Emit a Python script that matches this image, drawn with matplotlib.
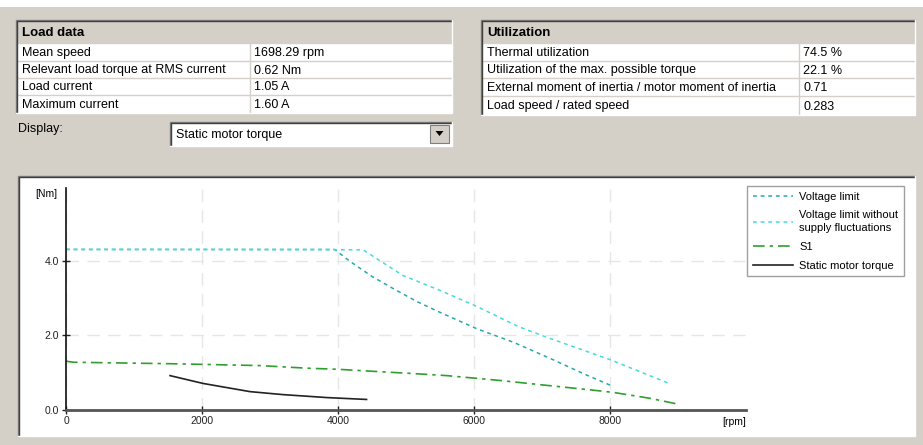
import matplotlib
matplotlib.use("Agg")
import matplotlib.pyplot as plt
from matplotlib.patches import Rectangle, Polygon

plt.rcParams['font.family'] = ['Liberation Sans', 'DejaVu Sans']

# values
load_rows = ["Mean speed", "Relevant load torque at RMS current", "Load current", "Maximum current"]
load_vals = ["1698.29 rpm", "0.62 Nm", "1.05 A", "1.60 A"]
util_rows = ["Thermal utilization", "Utilization of the max. possible torque",
             "External moment of inertia / motor moment of inertia", "Load speed / rated speed"]
util_vals = ["74.5 %", "22.1 %", "0.71", "0.283"]

voltage_rpm = [0, 3950, 4176, 4495, 4810, 5160, 5500, 6040, 6575, 7160, 7600, 8045]
voltage_nm = [4.30, 4.30, 3.98, 3.58, 3.25, 2.90, 2.61, 2.17, 1.81, 1.34, 0.97, 0.62]

nofluct_rpm = [0, 4370, 4495, 4955, 5500, 6040, 6650, 7070, 8000, 8870]
nofluct_nm = [4.30, 4.29, 4.14, 3.60, 3.20, 2.77, 2.23, 1.94, 1.34, 0.70]

s1_rpm = [0, 100, 1530, 2850, 3540, 4000, 4570, 5060, 5600, 6380, 7220, 7700, 8045, 8590, 8985]
s1_nm = [1.30, 1.27, 1.23, 1.18, 1.11, 1.08, 1.02, 0.97, 0.91, 0.78, 0.62, 0.53, 0.46, 0.30, 0.15]

static_rpm = [1530, 2015, 2706, 3190, 3840, 4420]
static_nm = [0.91, 0.70, 0.48, 0.40, 0.32, 0.27]

x_ticks = [0, 2000, 4000, 6000, 8000]
y_ticks = [0.0, 2.0, 4.0]

GRAY = "#d4d0c8"
W, H = 923, 445

fig = plt.figure(figsize=(W / 100, H / 100), dpi=100)
fig.patch.set_facecolor(GRAY)

# background layer in pixel coordinates
bg = fig.add_axes([0, 0, 1, 1])
bg.set_xlim(0, W)
bg.set_ylim(H, 0)
bg.axis("off")
bg.add_patch(Rectangle((0, 0), W, 7, color="white", lw=0))


def sunken(x0, y0, x1, y1):
    bg.plot([x0, x0, x1], [y1, y0, y0], color="#808080", lw=1)
    bg.plot([x0 + 1, x0 + 1, x1 - 1], [y1 - 1, y0 + 1, y0 + 1], color="#404040", lw=1)
    bg.plot([x0, x1, x1], [y1, y1, y0], color="white", lw=1)


def table(x0, x1, xdiv, lines, title, rows, vals):
    bg.add_patch(Rectangle((x0, lines[0]), x1 - x0, lines[-1] - lines[0], color="white", lw=0))
    bg.add_patch(Rectangle((x0, lines[0]), x1 - x0, lines[1] - lines[0], color=GRAY, lw=0))
    for y in lines[1:-1]:
        bg.plot([x0, x1], [y, y], color=GRAY, lw=1)
    bg.plot([xdiv, xdiv], [lines[0], lines[-1]], color=GRAY, lw=1)
    sunken(x0, lines[0], x1, lines[-1])
    bg.text(x0 + 6, (lines[0] + lines[1]) / 2 + 1, title, fontsize=9.5, fontweight="bold", va="center")
    for i, (r, v) in enumerate(zip(rows, vals)):
        yc = (lines[i + 1] + lines[i + 2]) / 2 + 1
        bg.text(x0 + 6, yc, r, fontsize=9, va="center")
        bg.text(xdiv + 4, yc, v, fontsize=9, va="center")


table(16, 452, 250, [20, 43, 61, 78, 95, 113], "Load data", load_rows, load_vals)
table(481, 915, 799, [20, 43, 61, 78, 96, 115], "Utilization", util_rows, util_vals)

# display selector
bg.text(18, 129, "Display:", fontsize=9, va="center")
bg.add_patch(Rectangle((170, 122), 282, 24, color="white", lw=0))
sunken(170, 122, 452, 146)
bg.text(176, 135, "Static motor torque", fontsize=9, va="center")
bg.add_patch(Rectangle((430, 125), 19, 18, facecolor=GRAY, edgecolor="#808080", lw=0.8))
bg.add_patch(Polygon([(435.5, 131), (443.5, 131), (439.5, 136)], color="black", lw=0))

# chart panel
bg.add_patch(Rectangle((18, 176), 897, 260, color="white", lw=0))
sunken(18, 176, 915, 436)
bg.text(57, 194, "[Nm]", fontsize=7.5, ha="right", va="center")
bg.text(746, 422, "[rpm]", fontsize=7.5, ha="right", va="center")

ax = fig.add_axes([66 / W, 1 - 409.5 / H, 680 / W, 221.5 / H])
ax.set_facecolor("none")
ax.set_xlim(0, 10000)
ax.set_ylim(0, 5.95)
ax.set_xticks(x_ticks)
ax.set_yticks(y_ticks)
ax.set_xticklabels([str(t) for t in x_ticks])
ax.set_yticklabels([f"{t:.1f}" for t in y_ticks])
ax.tick_params(direction="inout", length=6, width=1, labelsize=7.5, pad=2, colors="#222222")
ax.grid(True, color="#e6e6e6", lw=1, linestyle=(0, (9, 6)))
for s in ["top", "right"]:
    ax.spines[s].set_visible(False)
ax.spines["left"].set_color("#111111")
ax.spines["left"].set_linewidth(1.2)
ax.spines["bottom"].set_color("#555555")
ax.spines["bottom"].set_linewidth(2)

ax.plot(voltage_rpm, voltage_nm, color="#26a9ae", lw=1.1, linestyle=(0, (2.5, 2.5)),
        label="Voltage limit")
ax.plot(nofluct_rpm, nofluct_nm, color="#45dbe0", lw=1.1, linestyle=(0, (2.5, 2.5)),
        label="Voltage limit without\nsupply fluctuations")
ax.plot(s1_rpm, s1_nm, color="#2f9f2f", lw=1.2, linestyle=(0, (7, 3, 2, 3)), label="S1")
ax.plot(static_rpm, static_nm, color="#222222", lw=1.2, label="Static motor torque")

leg = ax.legend(loc="upper left", bbox_to_anchor=(747 / W, 1 - 186 / H), bbox_transform=fig.transFigure,
                fontsize=8, frameon=True, fancybox=False, handlelength=3.6, handletextpad=0.6,
                labelspacing=0.8, borderpad=0.5, borderaxespad=0)
leg.get_frame().set_edgecolor("#888888")
leg.get_frame().set_linewidth(1)
for t in leg.get_texts():
    t.set_linespacing(1.3)

fig.savefig("out.png", dpi=100, facecolor=GRAY)
